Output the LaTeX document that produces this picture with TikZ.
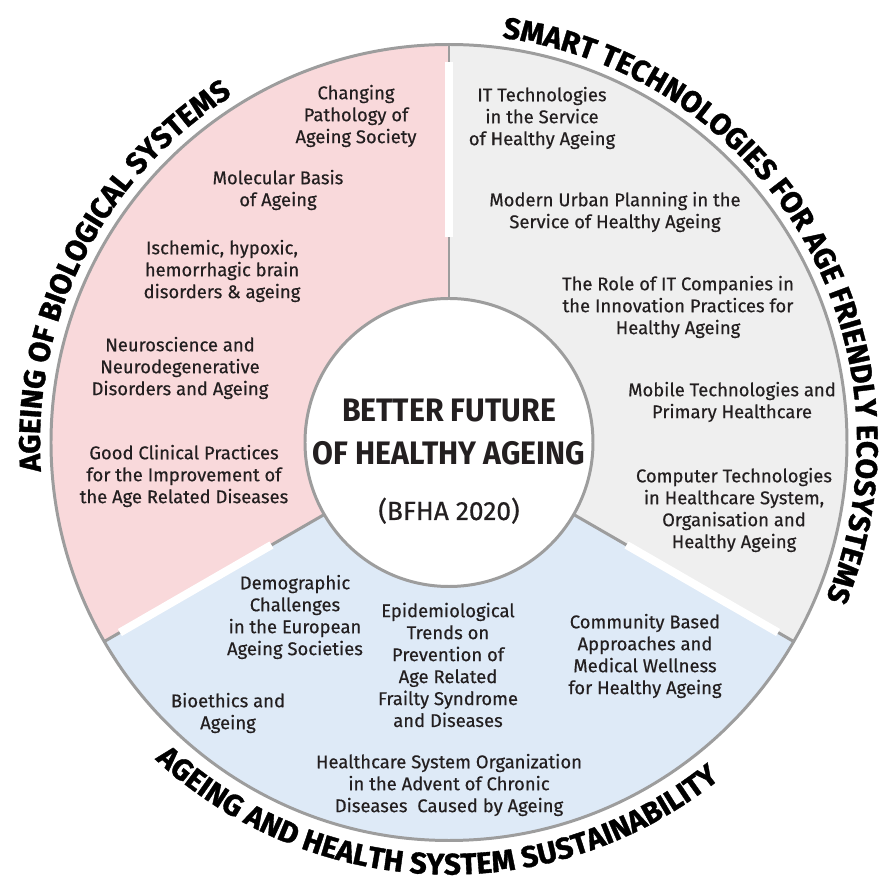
\documentclass[tikz,border=0pt]{standalone}
\usepackage{fontspec}
\setmainfont{Fira Sans}
\newfontfamily\topicfont[FakeBold=0.45]{Fira Sans}
\newfontfamily\headfont[FakeStretch=0.93]{Fira Sans}
\newfontfamily\yearfont[FakeBold=0.6]{Fira Sans}
\newfontfamily\bandfont[FakeBold=1.2]{Fira Sans}
\usetikzlibrary{calc, decorations.text}
\definecolor{cPink}{HTML}{F9D9DB}
\definecolor{cGrey}{HTML}{EFEFEF}
\definecolor{cBlue}{HTML}{DEEAF7}
\definecolor{cRim}{HTML}{9D9D9D}
\definecolor{cInk}{HTML}{231F20}
\tikzset{
  topic/.style={align=center, text=cInk, inner sep=0pt,
    font=\topicfont\fontsize{10.5}{12.5}\selectfont},
  rim/.style={draw=cRim, line width=1.7pt},
  gap/.style={draw=white, line width=4.6pt},
  band/.style={decorate, decoration={text along path, text align=center,
    text={|\bandfont\bfseries\fontsize{17}{17}\selectfont\color{black}|#1}}},
}

\begin{document}
\begin{tikzpicture}[x=0.02cm, y=0.02cm]
\useasboundingbox (-449,442.5) rectangle (434,-439.5);
\def\rIn{144}
\def\rOut{398}
%three sectors
\foreach \col/\a/\b in {cPink/90/210, cBlue/210/330, cGrey/-30/90}
{
    \fill[\col] (\a:\rIn) -- (\a:\rOut) arc[start angle=\a, end angle=\b, radius=\rOut]
        -- (\b:\rIn) arc[start angle=\b, end angle=\a, radius=\rIn] -- cycle;
};
%dividers with white gap
\foreach \a in {90,210,330}
{
    \draw[rim] (\a:\rIn) -- (\a:\rOut);
    \draw[gap] (\a:205) -- (\a:380);
};
\draw[rim] (0,0) circle[radius=\rOut];
\draw[rim, fill=white] (0,0) circle[radius=\rIn];

%centre
\node[anchor=base, text=cInk, font=\headfont\bfseries\fontsize{18.5}{18.5}\selectfont] (tBetter) at (0,20.5) {BETTER FUTURE};
\node[anchor=base, text=cInk, font=\headfont\bfseries\fontsize{18.5}{18.5}\selectfont] (tHealthy) at (0,-22.5) {OF HEALTHY AGEING};
\node[anchor=base, text=cInk, font=\yearfont\fontsize{15}{15}\selectfont] (tYear) at (0,-77.5) {(BFHA 2020)};

%topics
\node[topic] (pA) at (-93,326.5) {Changing\\Pathology of\\Ageing Society};
\node[topic] (pB) at (-171,252.5) {Molecular Basis\\of Ageing};
\node[topic] (pC) at (-227,171.5) {Ischemic, hypoxic,\\hemorrhagic brain\\disorders \& ageing};
\node[topic] (pD) at (-269,74.5) {Neuroscience and\\Neurodegenerative\\Disorders and Ageing};
\node[topic] (pE) at (-265,-33.5) {Good Clinical Practices\\for the Improvement of\\the Age Related Diseases};
\node[topic] (gA) at (93,324.5) {IT Technologies\\in the Service\\of Healthy Ageing};
\node[topic] (gB) at (166,230.5) {Modern Urban Planning in the\\Service of Healthy Ageing};
\node[topic] (gC) at (229,135.5) {The Role of IT Companies in\\the Innovation Practices for\\Healthy Ageing};
\node[topic] (gD) at (283,40.5) {Mobile Technologies and\\Primary Healthcare};
\node[topic] (gE) at (285,-67.5) {Computer Technologies\\in Healthcare System,\\Organisation and\\Healthy Ageing};
\node[topic] (bA) at (-154,-174.5) {Demographic\\Challenges\\in the European\\Ageing Societies};
\node[topic] (bB) at (-1,-222.5) {Epidemiological\\Trends on\\Prevention of\\Age Related\\Frailty Syndrome\\and Diseases};
\node[topic] (bC) at (196,-213.5) {Community Based\\Approaches and\\Medical Wellness\\for Healthy Ageing};
\node[topic] (bD) at (-221,-270.5) {Bioethics and\\Ageing};
\node[topic] (bE) at (0,-342.5) {Healthcare System Organization\\in the Advent of Chronic\\Diseases~~Caused by Ageing};

%titles round the rim
\path[band={AGEING OF BIOLOGICAL SYSTEMS}] (199:409) arc[start angle=199, end angle=107, radius=409];
\path[band={SMART TECHNOLOGIES FOR AGE FRIENDLY ECOSYSTEMS}] (100:408) arc[start angle=100, end angle=-40, radius=408];
\path[band={AGEING AND HEALTH SYSTEM SUSTAINABILITY}] (205:432) arc[start angle=205, end angle=331, radius=432];
\end{tikzpicture}
\end{document}
